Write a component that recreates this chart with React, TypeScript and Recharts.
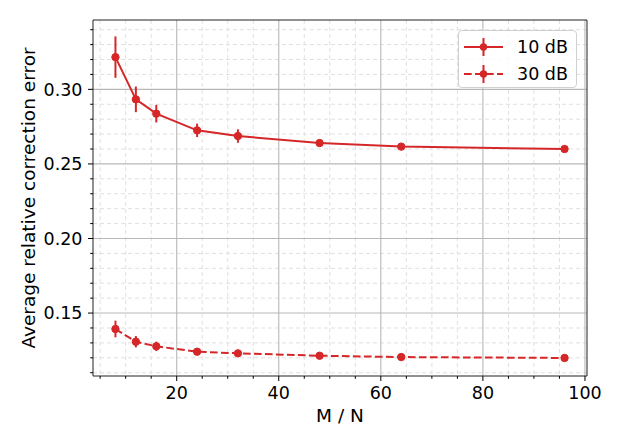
import React from "react";
import {
  LineChart, Line, XAxis, YAxis, CartesianGrid, ErrorBar,
  ReferenceLine, Legend, Label,
} from "recharts";

const RED = "#d62728";
const FONT = "'DejaVu Sans', Verdana, sans-serif";

// M / N ratios
const mn = [8, 12, 16, 24, 32, 48, 64, 96];

// 10 dB series: mean and std of the relative correction error
const err10 = [0.3216, 0.2933, 0.2837, 0.2725, 0.2687, 0.264, 0.2616, 0.26];
const std10 = [0.0139, 0.0086, 0.0059, 0.0045, 0.0045, 0.002, 0.0018, 0.0012];

// 30 dB series
const err30 = [0.1393, 0.1308, 0.1277, 0.1241, 0.123, 0.1214, 0.1205, 0.1199];
const std30 = [0.0056, 0.0038, 0.0031, 0.0015, 0.0012, 0.001, 0.0009, 0.0008];

const xDomain = [3.6, 100.4];
const yDomain = [0.1078, 0.3465];

const xMajor = [20, 40, 60, 80, 100];
const xMinor = [5, 10, 15, 25, 30, 35, 45, 50, 55, 65, 70, 75, 85, 90, 95];
const yMajor = [0.15, 0.2, 0.25, 0.3];
const yMinor = [0.11, 0.12, 0.13, 0.14, 0.16, 0.17, 0.18, 0.19, 0.21, 0.22, 0.23, 0.24, 0.26, 0.27, 0.28, 0.29, 0.31, 0.32, 0.33, 0.34];

const DASH = "7.7 3.3";

const data10 = mn.map((x, i) => ({ x, y: err10[i], e: std10[i] }));
const data30 = mn.map((x, i) => ({ x, y: err30[i], e: std30[i] }));

const isMajor = (list: number[], v: number) => list.some((m) => Math.abs(m - v) < 1e-9);

const XTick = (props: any) => {
  const { x, y, payload } = props;
  const major = isMajor(xMajor, payload.value);
  return (
    <g>
      <line x1={x} x2={x} y1={y} y2={y + (major ? 5 : 2.8)} stroke="#000" strokeWidth={1} />
      {major && (
        <text x={x} y={y + 22.5} textAnchor="middle" fontSize={17.5} fontFamily={FONT} fill="#000">
          {payload.value}
        </text>
      )}
    </g>
  );
};

const YTick = (props: any) => {
  const { x, y, payload } = props;
  const major = isMajor(yMajor, payload.value);
  return (
    <g>
      <line x1={x} x2={x - (major ? 5 : 2.8)} y1={y} y2={y} stroke="#000" strokeWidth={1} />
      {major && (
        <text x={x - 10.5} y={y} dy="0.36em" textAnchor="end" fontSize={17.5} fontFamily={FONT} fill="#000">
          {payload.value.toFixed(2)}
        </text>
      )}
    </g>
  );
};

const LegendBox = () => {
  const rows = [
    { name: "10 dB", dash: undefined as string | undefined },
    { name: "30 dB", dash: DASH },
  ];
  return (
    <div
      style={{
        width: 119,
        height: 58,
        border: "1px solid #d0d0d0",
        borderRadius: 4,
        background: "rgba(255,255,255,0.8)",
        fontFamily: FONT,
        fontSize: 17.5,
        boxSizing: "border-box",
        paddingTop: 2,
      }}
    >
      {rows.map((r) => (
        <div key={r.name} style={{ display: "flex", alignItems: "center", height: 27 }}>
          <svg width={40} height={22} style={{ marginLeft: 5 }}>
            <line x1={0} x2={39} y1={11} y2={11} stroke={RED} strokeWidth={2} strokeDasharray={r.dash} />
            <line x1={19.5} x2={19.5} y1={2} y2={20} stroke={RED} strokeWidth={2} />
            <circle cx={19.5} cy={11} r={3.7} fill={RED} />
          </svg>
          <span style={{ marginLeft: 13, color: "#000" }}>{r.name}</span>
        </div>
      ))}
    </div>
  );
};

export default function App() {
  return (
    <div style={{ position: "absolute", left: 0, top: 0, background: "#fff" }}>
      <LineChart width={623} height={445} margin={{ top: 20, right: 36, bottom: 20, left: 3 }}>
        <CartesianGrid
          verticalValues={xMinor}
          horizontalValues={yMinor}
          stroke="#e0e0e0"
          strokeDasharray="4 3"
          strokeWidth={1}
        />
        <CartesianGrid verticalValues={xMajor} horizontalValues={yMajor} stroke="#b8b8b8" strokeWidth={1.1} />
        <XAxis
          type="number"
          dataKey="x"
          domain={xDomain}
          ticks={[...xMinor, ...xMajor].sort((a, b) => a - b)}
          allowDataOverflow
          height={49}
          tickSize={0}
          tickMargin={0}
          tickLine={false}
          tick={<XTick />}
          stroke="#222"
          interval={0}
        >
          <Label value="M / N" position="center" dy={14.9} fontSize={18.5} fontFamily={FONT} fill="#000" />
        </XAxis>
        <YAxis
          type="number"
          dataKey="y"
          domain={yDomain}
          ticks={[...yMinor, ...yMajor].sort((a, b) => a - b)}
          allowDataOverflow
          width={90}
          tickSize={0}
          tickMargin={0}
          tickLine={false}
          tick={<YTick />}
          stroke="#222"
          interval={0}
        >
          <Label
            value="Average relative correction error"
            position="center"
            angle={-90}
            dx={-19.6}
            fontSize={18.5}
            fontFamily={FONT}
            fill="#000"
          />
        </YAxis>
        <ReferenceLine x={xDomain[1]} stroke="#222" strokeWidth={1} ifOverflow="extendDomain" />
        <ReferenceLine y={yDomain[1]} stroke="#222" strokeWidth={1} ifOverflow="extendDomain" />
        <Line
          data={data10}
          dataKey="y"
          name="10 dB"
          stroke={RED}
          strokeWidth={2}
          dot={{ r: 3.7, fill: RED, stroke: RED, strokeWidth: 1 }}
          activeDot={false}
          isAnimationActive={false}
        >
          <ErrorBar dataKey="e" direction="y" width={0} stroke={RED} strokeWidth={2} isAnimationActive={false} />
        </Line>
        <Line
          data={data30}
          dataKey="y"
          name="30 dB"
          stroke={RED}
          strokeWidth={2}
          strokeDasharray={DASH}
          dot={{ r: 3.7, fill: RED, stroke: RED, strokeWidth: 1, strokeDasharray: "" }}
          activeDot={false}
          isAnimationActive={false}
        >
          <ErrorBar dataKey="e" direction="y" width={0} stroke={RED} strokeWidth={2} isAnimationActive={false} />
        </Line>
        <Legend
          layout="vertical"
          align="center"
          verticalAlign="middle"
          content={<LegendBox />}
          wrapperStyle={{ top: 30, left: 458, width: 119 }}
        />
      </LineChart>
    </div>
  );
}
